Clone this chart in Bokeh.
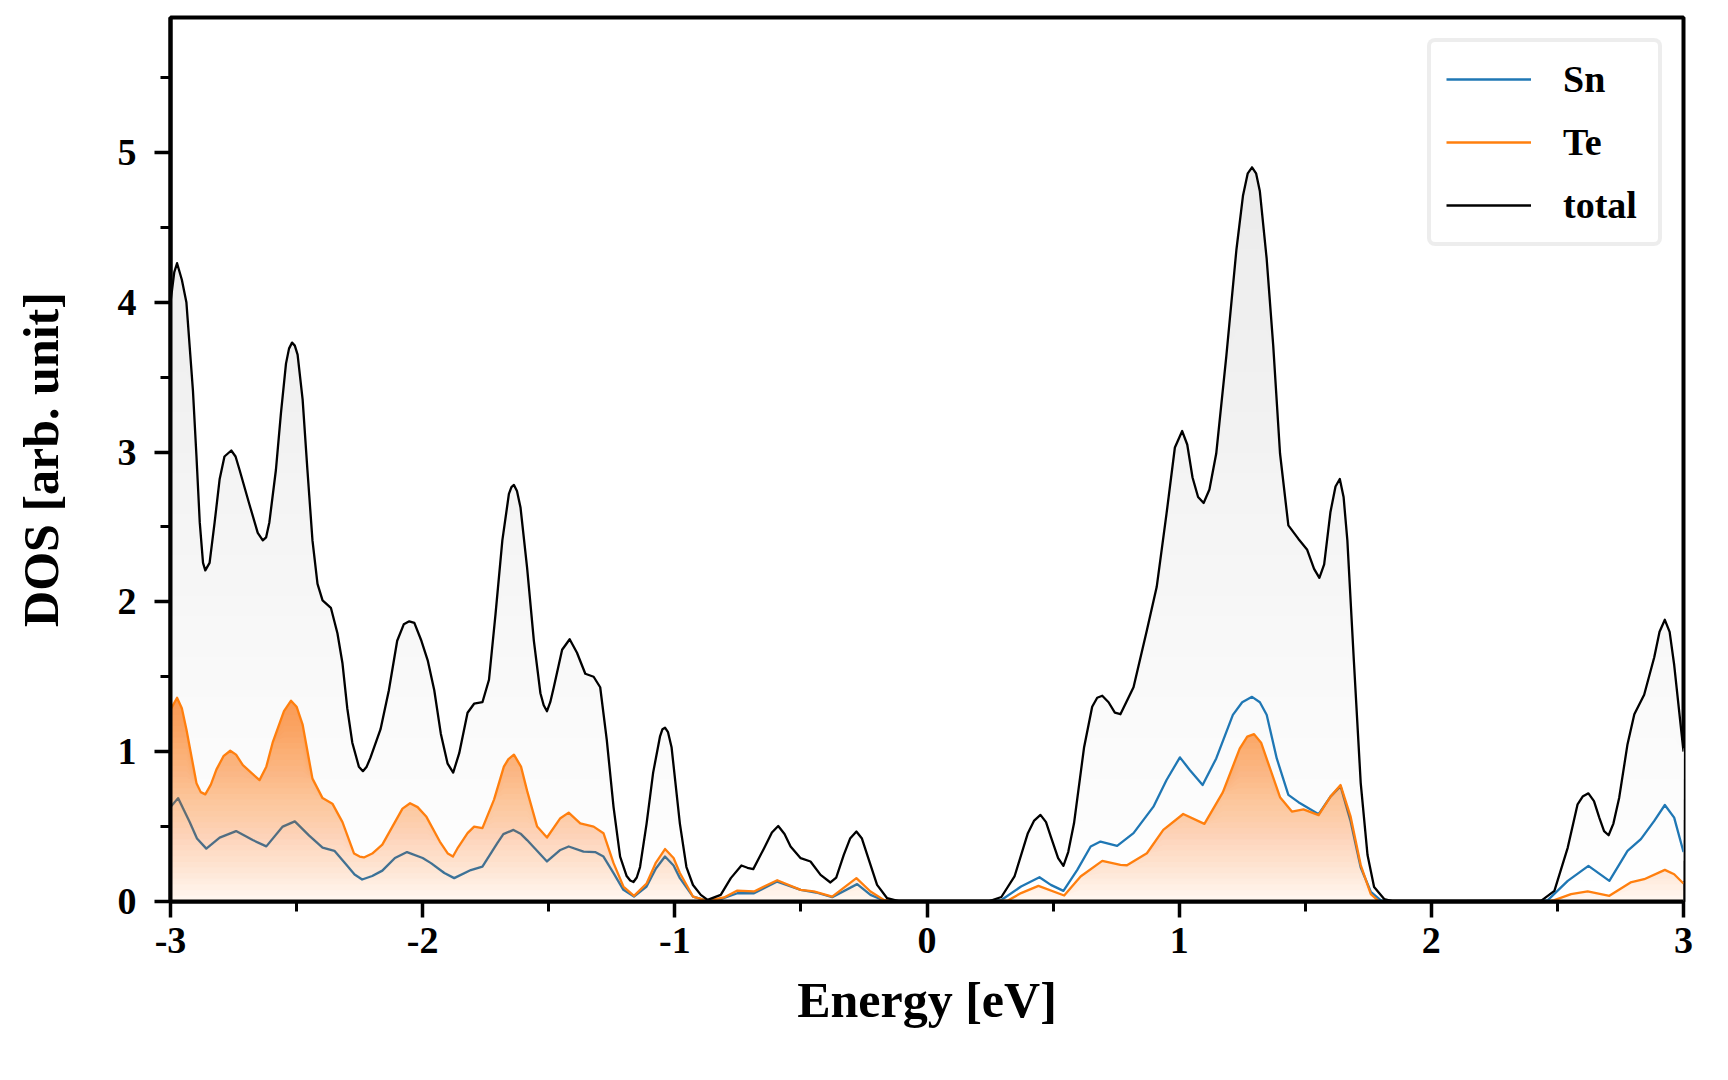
import numpy as np
from bokeh.plotting import figure
from bokeh.models import Range1d, SingleIntervalTicker, Legend, LegendItem, CustomJSTickFormatter
from bokeh.embed import file_html
from bokeh.resources import INLINE

# ---- data (Energy [eV], DOS [arb. unit]) ----
total_points = [
    (-3.0, 4.00), (-2.985, 4.20), (-2.974, 4.26), (-2.955, 4.15), (-2.937, 4.00),
    (-2.911, 3.41), (-2.897, 2.97), (-2.884, 2.53), (-2.871, 2.26), (-2.862, 2.21),
    (-2.845, 2.26), (-2.825, 2.53), (-2.805, 2.82), (-2.786, 2.97), (-2.759, 3.01),
    (-2.742, 2.97), (-2.726, 2.88), (-2.687, 2.65), (-2.654, 2.46), (-2.634, 2.41),
    (-2.621, 2.43), (-2.608, 2.53), (-2.582, 2.88), (-2.562, 3.26), (-2.542, 3.59),
    (-2.530, 3.69), (-2.518, 3.73), (-2.507, 3.71), (-2.496, 3.65), (-2.476, 3.35),
    (-2.457, 2.88), (-2.437, 2.41), (-2.417, 2.12), (-2.397, 2.01), (-2.364, 1.96),
    (-2.338, 1.79), (-2.318, 1.59), (-2.299, 1.29), (-2.279, 1.06), (-2.253, 0.90),
    (-2.237, 0.87), (-2.222, 0.90), (-2.207, 0.96), (-2.167, 1.15), (-2.134, 1.41),
    (-2.101, 1.74), (-2.075, 1.85), (-2.053, 1.87), (-2.033, 1.86), (-2.005, 1.74),
    (-1.980, 1.61), (-1.954, 1.41), (-1.928, 1.12), (-1.901, 0.92), (-1.879, 0.86),
    (-1.855, 0.99), (-1.822, 1.26), (-1.796, 1.32), (-1.763, 1.33), (-1.737, 1.48),
    (-1.711, 1.92), (-1.684, 2.41), (-1.658, 2.72), (-1.648, 2.765), (-1.638, 2.78),
    (-1.626, 2.74), (-1.612, 2.63), (-1.586, 2.23), (-1.559, 1.74), (-1.533, 1.39),
    (-1.520, 1.31), (-1.507, 1.27), (-1.494, 1.33), (-1.480, 1.43), (-1.447, 1.68),
    (-1.417, 1.75), (-1.388, 1.66), (-1.355, 1.52), (-1.322, 1.50), (-1.296, 1.43),
    (-1.270, 1.08), (-1.243, 0.63), (-1.217, 0.30), (-1.191, 0.17), (-1.177, 0.14),
    (-1.164, 0.13), (-1.151, 0.16), (-1.138, 0.23), (-1.112, 0.52), (-1.086, 0.86),
    (-1.059, 1.10), (-1.049, 1.15), (-1.039, 1.16), (-1.027, 1.13), (-1.013, 1.03),
    (-0.980, 0.52), (-0.954, 0.23), (-0.928, 0.11), (-0.897, 0.044), (-0.870, 0.011),
    (-0.818, 0.044), (-0.778, 0.156), (-0.736, 0.24), (-0.712, 0.225), (-0.689, 0.216),
    (-0.646, 0.356), (-0.615, 0.46), (-0.590, 0.504), (-0.565, 0.45), (-0.541, 0.367),
    (-0.501, 0.289), (-0.462, 0.267), (-0.422, 0.178), (-0.383, 0.127), (-0.360, 0.16),
    (-0.330, 0.311), (-0.305, 0.42), (-0.280, 0.467), (-0.258, 0.42), (-0.237, 0.311),
    (-0.198, 0.111), (-0.158, 0.022), (-0.105, 0.0), (0.242, 0.0), (0.295, 0.03),
    (0.347, 0.167), (0.400, 0.456), (0.425, 0.54), (0.450, 0.578), (0.472, 0.53),
    (0.491, 0.433), (0.520, 0.29), (0.541, 0.238), (0.560, 0.33), (0.583, 0.522),
    (0.623, 1.03), (0.655, 1.30), (0.675, 1.36), (0.695, 1.373), (0.720, 1.33),
    (0.745, 1.26), (0.767, 1.25), (0.819, 1.43), (0.872, 1.81), (0.911, 2.10),
    (0.950, 2.59), (0.983, 3.03), (1.012, 3.14), (1.032, 3.05), (1.053, 2.83),
    (1.075, 2.70), (1.097, 2.66), (1.120, 2.75), (1.147, 2.99), (1.187, 3.64),
    (1.227, 4.35), (1.253, 4.71), (1.272, 4.86), (1.289, 4.90), (1.305, 4.86),
    (1.320, 4.74), (1.347, 4.29), (1.373, 3.71), (1.400, 2.99), (1.433, 2.51),
    (1.473, 2.42), (1.507, 2.35), (1.535, 2.22), (1.556, 2.16), (1.575, 2.25),
    (1.600, 2.60), (1.620, 2.77), (1.637, 2.82), (1.652, 2.70), (1.667, 2.41),
    (1.693, 1.60), (1.720, 0.79), (1.747, 0.31), (1.773, 0.097), (1.813, 0.016),
    (1.853, 0.0), (2.435, 0.004), (2.488, 0.071), (2.541, 0.36), (2.580, 0.649),
    (2.600, 0.70), (2.623, 0.722), (2.645, 0.67), (2.666, 0.56), (2.685, 0.47),
    (2.703, 0.442), (2.722, 0.52), (2.745, 0.693), (2.778, 1.05), (2.805, 1.25),
    (2.844, 1.38), (2.884, 1.63), (2.905, 1.80), (2.926, 1.88), (2.945, 1.80),
    (2.963, 1.58), (3.0, 1.0),
]

sn_points = [
    (-3.0, 0.63), (-2.97, 0.69), (-2.924, 0.53), (-2.895, 0.42), (-2.858, 0.353),
    (-2.805, 0.426), (-2.74, 0.47), (-2.674, 0.41), (-2.62, 0.368), (-2.555, 0.50),
    (-2.507, 0.535), (-2.45, 0.44), (-2.397, 0.36), (-2.35, 0.338), (-2.305, 0.25),
    (-2.27, 0.18), (-2.24, 0.147), (-2.20, 0.17), (-2.16, 0.206), (-2.11, 0.29),
    (-2.062, 0.33), (-2.0, 0.29), (-1.967, 0.256), (-1.914, 0.19), (-1.875, 0.156),
    (-1.809, 0.21), (-1.763, 0.233), (-1.704, 0.39), (-1.68, 0.45), (-1.64, 0.478),
    (-1.61, 0.45), (-1.586, 0.41), (-1.507, 0.267), (-1.454, 0.344), (-1.421, 0.367),
    (-1.362, 0.333), (-1.316, 0.33), (-1.283, 0.30), (-1.243, 0.19), (-1.204, 0.078),
    (-1.162, 0.033), (-1.112, 0.10), (-1.075, 0.22), (-1.039, 0.30), (-1.005, 0.24),
    (-0.98, 0.156), (-0.928, 0.033), (-0.87, 0.004), (-0.81, 0.02), (-0.752, 0.055),
    (-0.686, 0.055), (-0.594, 0.133), (-0.501, 0.078), (-0.44, 0.06), (-0.376, 0.029),
    (-0.277, 0.116), (-0.224, 0.044), (-0.171, 0.007), (-0.12, 0.0), (0.24, 0.0),
    (0.295, 0.01), (0.373, 0.10), (0.446, 0.162), (0.491, 0.111), (0.541, 0.071),
    (0.596, 0.211), (0.649, 0.367), (0.688, 0.40), (0.754, 0.371), (0.819, 0.456),
    (0.898, 0.633), (0.95, 0.811), (1.003, 0.962), (1.042, 0.878), (1.093, 0.777),
    (1.147, 0.955), (1.213, 1.246), (1.25, 1.33), (1.289, 1.366), (1.32, 1.33),
    (1.347, 1.246), (1.387, 0.955), (1.433, 0.712), (1.473, 0.663), (1.52, 0.615),
    (1.553, 0.583), (1.60, 0.70), (1.64, 0.77), (1.68, 0.534), (1.72, 0.227),
    (1.76, 0.065), (1.80, 0.007), (1.85, 0.0), (2.43, 0.0), (2.462, 0.009),
    (2.541, 0.138), (2.623, 0.238), (2.706, 0.138), (2.778, 0.338), (2.831, 0.416),
    (2.884, 0.538), (2.926, 0.644), (2.963, 0.56), (3.0, 0.33),
]

te_points = [
    (-3.0, 1.28), (-2.974, 1.36), (-2.955, 1.29), (-2.937, 1.15), (-2.897, 0.79),
    (-2.88, 0.73), (-2.862, 0.715), (-2.84, 0.78), (-2.818, 0.88), (-2.79, 0.97),
    (-2.763, 1.006), (-2.74, 0.98), (-2.713, 0.91), (-2.647, 0.81), (-2.62, 0.90),
    (-2.595, 1.06), (-2.55, 1.27), (-2.522, 1.34), (-2.50, 1.30), (-2.476, 1.18),
    (-2.437, 0.82), (-2.397, 0.69), (-2.358, 0.653), (-2.318, 0.53), (-2.272, 0.32),
    (-2.25, 0.30), (-2.233, 0.294), (-2.20, 0.32), (-2.16, 0.38), (-2.12, 0.50),
    (-2.08, 0.62), (-2.05, 0.656), (-2.02, 0.63), (-1.985, 0.565), (-1.932, 0.40),
    (-1.90, 0.32), (-1.88, 0.30), (-1.86, 0.36), (-1.822, 0.456), (-1.796, 0.50),
    (-1.763, 0.49), (-1.717, 0.68), (-1.678, 0.90), (-1.66, 0.95), (-1.638, 0.98),
    (-1.61, 0.90), (-1.586, 0.74), (-1.546, 0.50), (-1.507, 0.427), (-1.454, 0.556),
    (-1.421, 0.593), (-1.375, 0.522), (-1.322, 0.50), (-1.283, 0.456), (-1.243, 0.256),
    (-1.204, 0.10), (-1.162, 0.038), (-1.112, 0.12), (-1.075, 0.26), (-1.039, 0.35),
    (-1.005, 0.29), (-0.98, 0.19), (-0.928, 0.033), (-0.87, 0.004), (-0.805, 0.027),
    (-0.752, 0.073), (-0.686, 0.067), (-0.594, 0.142), (-0.501, 0.078), (-0.449, 0.067),
    (-0.376, 0.033), (-0.28, 0.156), (-0.224, 0.067), (-0.171, 0.011), (-0.12, 0.0),
    (0.26, 0.0), (0.321, 0.007), (0.373, 0.056), (0.442, 0.104), (0.544, 0.04),
    (0.609, 0.167), (0.695, 0.271), (0.767, 0.244), (0.793, 0.242), (0.872, 0.322),
    (0.937, 0.478), (1.016, 0.584), (1.1, 0.518), (1.173, 0.728), (1.24, 1.02),
    (1.27, 1.10), (1.297, 1.117), (1.325, 1.06), (1.36, 0.89), (1.40, 0.696),
    (1.447, 0.60), (1.493, 0.615), (1.553, 0.576), (1.60, 0.70), (1.64, 0.777),
    (1.68, 0.566), (1.72, 0.243), (1.76, 0.049), (1.793, 0.0), (2.46, 0.0),
    (2.488, 0.009), (2.554, 0.049), (2.62, 0.067), (2.706, 0.038), (2.79, 0.127),
    (2.844, 0.149), (2.926, 0.211), (2.963, 0.182), (3.0, 0.12),
]

series_labels = ["Sn", "Te", "total"]
series_colors = ["#1f77b4", "#ff7f0e", "black"]

tot_e = np.array([q[0] for q in total_points])
tot_d = np.array([q[1] for q in total_points])
sn_e = np.array([q[0] for q in sn_points])
sn_d = np.array([q[1] for q in sn_points])
te_e = np.array([q[0] for q in te_points])
te_d = np.array([q[1] for q in te_points])

FONT = "Liberation Serif"

p = figure(width=1712, height=1064, output_backend="svg", toolbar_location=None,
           x_range=Range1d(-3, 3), y_range=Range1d(0, 5.9),
           min_border_left=170, min_border_right=29, min_border_top=17,
           min_border_bottom=163)
p.grid.visible = False
p.background_fill_color = "white"
p.border_fill_color = "white"
p.outline_line_color = "black"
p.outline_line_width = 4

# gray gradient under the total DOS (opaque, stacked layers)
N = 36
tmax = tot_d.max()
for k in range(N):
    lo = tmax * k / N
    g = int(round(255 - 20.0 * (k + 0.5) / N))
    p.varea(x=tot_e, y1=np.minimum(tot_d, lo), y2=tot_d,
            fill_color="#%02x%02x%02x" % (g, g, g), fill_alpha=1.0)

r_sn = p.line(sn_e, sn_d, line_color=series_colors[0], line_width=2.3, line_join="round")

# orange gradient under Te (composited alpha layers)
emax = te_d.max()
prevA = 0.0
for k in range(N):
    lo = emax * k / N
    A = 0.06 + 0.60 * (k + 0.5) / N
    a = 1.0 - (1.0 - A) / (1.0 - prevA)
    prevA = A
    p.varea(x=te_e, y1=np.minimum(te_d, lo), y2=te_d,
            fill_color="#ff7f0e", fill_alpha=a)

r_te = p.line(te_e, te_d, line_color=series_colors[1], line_width=2.3, line_join="round")
r_tot = p.line(tot_e, tot_d, line_color=series_colors[2], line_width=2.3, line_join="round")

for ax in (p.xaxis[0], p.yaxis[0]):
    ax.ticker = SingleIntervalTicker(interval=1, num_minor_ticks=2)
    ax.axis_line_width = 4
    ax.axis_line_color = "black"
    ax.major_tick_line_width = 3.5
    ax.minor_tick_line_width = 3
    ax.major_tick_out = 16
    ax.major_tick_in = 0
    ax.minor_tick_out = 10
    ax.minor_tick_in = 0
    ax.major_label_text_font = FONT
    ax.major_label_text_font_style = "bold"
    ax.major_label_text_font_size = "38px"
    ax.major_label_text_color = "black"
    ax.axis_label_text_font = FONT
    ax.axis_label_text_font_style = "bold"
    ax.axis_label_text_font_size = "50px"
    ax.axis_label_text_color = "black"
    ax.formatter = CustomJSTickFormatter(code="return String(Math.round(tick));")

p.xaxis.axis_label = "Energy [eV]"
p.yaxis.axis_label = "DOS [arb. unit]"
p.xaxis.major_label_standoff = 10
p.yaxis.major_label_standoff = 18
p.xaxis.axis_label_standoff = 16
p.yaxis.axis_label_standoff = 46

legend = Legend(
    items=[LegendItem(label=series_labels[0], renderers=[r_sn]),
           LegendItem(label=series_labels[1], renderers=[r_te]),
           LegendItem(label=series_labels[2], renderers=[r_tot])],
    location="top_right",
    label_text_font=FONT, label_text_font_style="bold", label_text_font_size="38px",
    label_text_color="black",
    glyph_width=85, glyph_height=40, label_height=40, label_width=80,
    label_standoff=32, padding=15, spacing=19, margin=21,
    border_line_color="#dcdcdc", border_line_width=4,
    background_fill_color="white", background_fill_alpha=0.8,
)
try:
    legend.border_radius = 8
except Exception:
    pass
p.add_layout(legend)

open("out.html", "w").write(file_html(p, INLINE))
